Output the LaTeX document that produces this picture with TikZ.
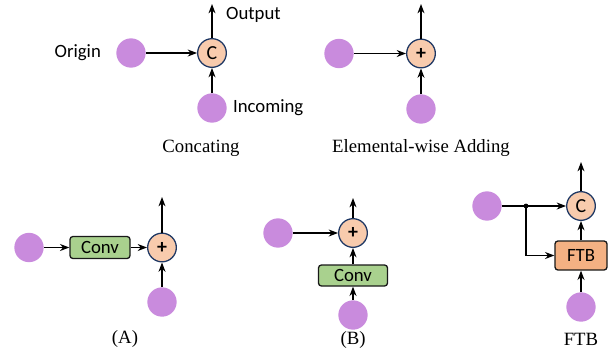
\documentclass[tikz,border=0pt]{standalone}
\usepackage{fontspec}
\setmainfont{Liberation Serif}
\setsansfont{Carlito}
\usepackage{tikz}
\usetikzlibrary{arrows.meta, positioning}
\definecolor{feat}{HTML}{C98BDD}
\definecolor{opfill}{HTML}{F8CBAD}
\definecolor{opline}{HTML}{1F3864}
\definecolor{convfill}{HTML}{A9D18E}
\definecolor{ftbfill}{HTML}{F4B183}
\tikzstyle{arrow} = [-{Stealth[length=8pt,width=6pt]}, line width=1pt]
\tikzset{
  feature/.style={circle, fill=feat, minimum size=0.88cm, inner sep=0pt},
  op/.style={circle, draw=opline, fill=opfill, line width=1.1pt, minimum size=0.86cm, inner sep=0pt, font=\sffamily\fontsize{17}{19}\selectfont},
  block/.style={draw=black!90, rounded corners=2.5pt, line width=1.1pt, inner sep=0pt, font=\sffamily\fontsize{16}{18}\selectfont},
  tag/.style={font=\sffamily\fontsize{16}{18}\selectfont},
  caption/.style={font=\fontsize{16}{18}\selectfont},
}

\begin{document}
\begin{tikzpicture}[x=0.03cm, y=-0.03cm]
        \useasboundingbox (0,0) rectangle (616,353);

        % Concating
        \node[feature] (origin1) at (131,53) {};
        \node[op] (cat1) at (212,53) {C};
        \node[feature] (inc1) at (212,108) {};
        \coordinate (out1) at (212,4);
        \draw[arrow] (origin1) -- (cat1);
        \draw[arrow] (inc1) -- (cat1);
        \draw[arrow] (cat1) -- (out1);
        \node[tag, anchor=east] (lorigin) at (105,53) {Origin};
        \node[tag, anchor=west] (loutput) at (222,15) {Output};
        \node[tag, anchor=west] (lincoming) at (229,108) {Incoming};
        \node[caption] (capcat) at (201,148) {Concating};

        % Elemental-wise adding
        \node[feature] (origin2) at (339,53.5) {};
        \node[op] (add2) at (421,53.5) {\textbf{+}};
        \node[feature] (inc2) at (421,109) {};
        \coordinate (out2) at (421,4);
        \draw[arrow] (origin2) -- (add2);
        \draw[arrow] (inc2) -- (add2);
        \draw[arrow] (add2) -- (out2);
        \node[caption] (capadd) at (421,148) {Elemental-wise Adding};

        % (A): conv on the origin branch
        \node[feature] (origin3) at (29,247.5) {};
        \node[block, fill=convfill, minimum width=60*0.03cm, minimum height=22*0.03cm] (conv3) at (100,247.5) {Conv};
        \node[op] (add3) at (162,247.5) {\textbf{+}};
        \node[feature] (inc3) at (162,302) {};
        \coordinate (out3) at (162,197);
        \draw[arrow] (origin3) -- (conv3);
        \draw[arrow] (conv3) -- (add3);
        \draw[arrow] (inc3) -- (add3);
        \draw[arrow] (add3) -- (out3);
        \node[caption] (capa) at (125,339) {(A)};

        % (B): conv on the incoming branch
        \node[feature] (origin4) at (278,233) {};
        \node[op] (add4) at (353,233) {\textbf{+}};
        \node[block, fill=convfill, minimum width=69*0.03cm, minimum height=21*0.03cm] (conv4) at (353,275.5) {Conv};
        \node[feature] (inc4) at (353,315) {};
        \coordinate (out4) at (353,198);
        \draw[arrow] (origin4) -- (add4);
        \draw[arrow] (inc4) -- (conv4);
        \draw[arrow] (conv4) -- (add4);
        \draw[arrow] (add4) -- (out4);
        \node[caption] (capb) at (353,340) {(B)};

        % FTB
        \node[feature] (origin5) at (487,206) {};
        \node[op] (cat5) at (581,206) {C};
        \node[block, fill=ftbfill, minimum width=52*0.03cm, minimum height=29*0.03cm] (ftb) at (581,255.5) {FTB};
        \node[feature] (inc5) at (581,307) {};
        \coordinate (out5) at (581,162);
        \fill (526,206) circle (2.4) coordinate (split);
        \draw[arrow] (origin5) -- (cat5);
        \draw[arrow] (split) |- (ftb);
        \draw[arrow] (inc5) -- (ftb);
        \draw[arrow] (ftb) -- (cat5);
        \draw[arrow] (cat5) -- (out5);
        \node[caption] (capftb) at (581,339) {FTB};
\end{tikzpicture}
\end{document}
